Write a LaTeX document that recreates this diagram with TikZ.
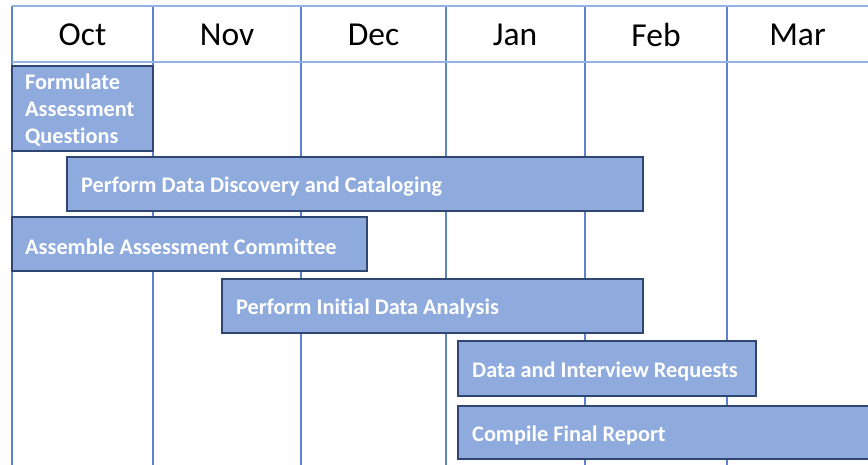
\documentclass[tikz,border=0pt]{standalone}
\usepackage{fontspec}
\setmainfont[Ligatures={NoCommon}]{Carlito}
\definecolor{gridv}{RGB}{91,130,205}
\definecolor{gridh}{RGB}{150,178,228}
\definecolor{barfill}{RGB}{143,170,220}
\definecolor{bardraw}{RGB}{47,70,115}
\begin{document}
\begin{tikzpicture}[x=1pt,y=-1pt,
  vline/.style={draw=gridv,line width=1.1pt},
  hline/.style={draw=gridh,line width=2.2pt},
  month/.style={anchor=center,font=\fontsize{33.5}{36}\selectfont,text=black},
  bar/.style={draw=bardraw,fill=barfill,line width=1.1pt},
  bartext/.style={anchor=west,text=white,font=\bfseries\fontsize{22.3}{27}\selectfont,align=left,inner sep=0pt}]
\useasboundingbox (0,0) rectangle (868,465);
% grid
\foreach \x/\n in {12/c0,153/c1,301/c2,446/c3,585/c4,727/c5}
  \draw[vline] (\x,6) coordinate (\n t) -- (\x,465) coordinate (\n b);
\draw[hline] (12,6) coordinate (ht1) -- (870,6) coordinate (ht2);
\draw[hline] (12,62) coordinate (hh1) -- (870,62) coordinate (hh2);
% months
\node[month] (oct) at (82.5,35) {Oct};
\node[month] (nov) at (227,35) {Nov};
\node[month] (dec) at (373.5,35) {Dec};
\node[month] (jan) at (515,35) {Jan};
\node[month] (feb) at (656,35) {Feb};
\node[month] (mar) at (797.5,35) {Mar};
% bars
\draw[bar] (12,66) rectangle (153,151);
\node[bartext] (t1) at (25,110.5) {Formulate\\Assessment\\Questions};
\draw[bar] (67,157) rectangle (643,211);
\node[bartext] (t2) at (81,186.5) {Perform Data Discovery and Cataloging};
\draw[bar] (12,217) rectangle (367,271);
\node[bartext] (t3) at (25,246.5) {Assemble Assessment Committee};
\draw[bar] (222,279) rectangle (643,333);
\node[bartext] (t4) at (236,308.5) {Perform Initial Data Analysis};
\draw[bar] (458,341) rectangle (756,396);
\node[bartext] (t5) at (472,371.5) {Data and Interview Requests};
\draw[bar] (458,406) rectangle (880,459);
\node[bartext] (t6) at (472,435.5) {Compile Final Report};
\end{tikzpicture}
\end{document}
